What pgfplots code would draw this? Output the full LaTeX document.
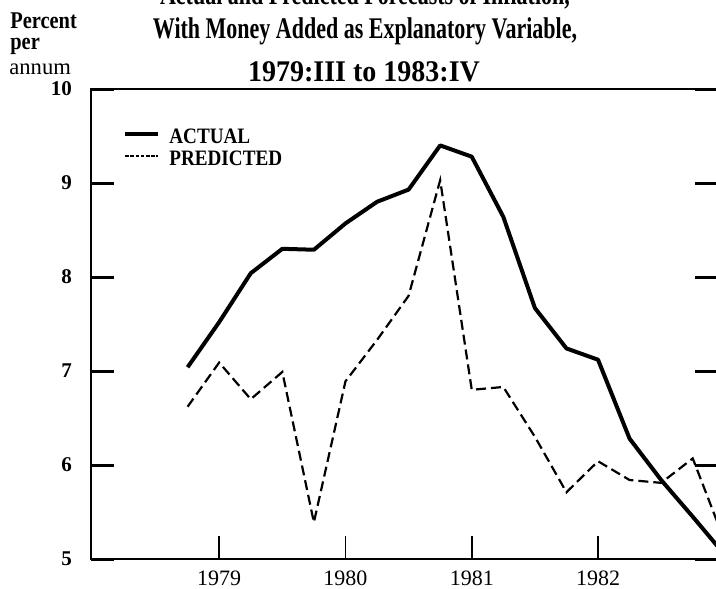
\documentclass[border=0pt]{standalone}
\usepackage{fontspec}
\setmainfont{Liberation Serif}
\usepackage{graphicx}
\usepackage{pgfplots}
\pgfplotsset{compat=1.18}
\pgfplotstableread{
x      y
1978.75 7.04
1979.00 7.52
1979.25 8.04
1979.50 8.30
1979.75 8.29
1980.00 8.57
1980.25 8.80
1980.50 8.93
1980.75 9.40
1981.00 9.28
1981.25 8.64
1981.50 7.67
1981.75 7.24
1982.00 7.12
1982.25 6.28
1982.50 5.84
1982.75 5.45
1983.00 5.05
}\actual
\pgfplotstableread{
x      y
1978.75 6.62
1979.00 7.09
1979.25 6.70
1979.50 6.99
1979.75 5.39
1980.00 6.89
1980.25 7.33
1980.50 7.80
1980.75 9.03
1981.00 6.80
1981.25 6.83
1981.50 6.30
1981.75 5.71
1982.00 6.04
1982.25 5.84
1982.50 5.81
1982.75 6.07
1983.00 5.20
}\predicted
\begin{document}
\begin{tikzpicture}
\begin{axis}[
  at={(0,0)}, anchor=south west,
  scale only axis, width=313.5pt, height=235pt,
  xmin=1977.985, xmax=1982.95, ymin=5, ymax=10,
  xtick={1979,1980,1981,1982}, ytick={5,6,7,8,9,10},
  xtick pos=bottom, ytick pos=both, yticklabel pos=left,
  tick align=inside, major tick length=11.5pt,
  xtick style={line width=0.8pt, black},
  ytick style={line width=1.5pt, black},
  axis line style={line width=1.2pt},
  /pgf/number format/assume math mode=true,
  /pgf/number format/1000 sep={},
  xticklabel style={font=\fontsize{11}{11}\selectfont, yshift=-2.5pt},
  yticklabel style={font=\fontsize{10.5}{10.5}\selectfont\bfseries, xshift=-6pt},
  legend cell align=left,
  legend style={at={(rel axis cs:0,1)}, anchor=north west, xshift=16pt, yshift=-19.5pt,
    draw=none, fill=none, inner sep=0pt, outer sep=0pt, row sep=0pt, column sep=4.5pt,
    font=\fontsize{11}{11}\selectfont\bfseries,
    nodes={inner sep=0pt, text height=7.5pt, text depth=3.5pt}},
]
\addplot[black, line width=2pt, line join=round,
  legend image code/.code={\draw[black, line width=2.2pt] (0pt,2.5pt) -- (16.5pt,2.5pt);}]
  table[x=x, y=y] {\actual};
\addlegendentry{\scalebox{0.87}[1]{ACTUAL}}
\addplot[black, line width=1.1pt, dash pattern=on 5pt off 2.5pt,
  legend image code/.code={\draw[black, line width=0.9pt, dash pattern=on 1.8pt off 0.8pt] (0pt,2.5pt) -- (16.5pt,2.5pt);}]
  table[x=x, y=y] {\predicted};
\addlegendentry{\scalebox{0.87}[1]{PREDICTED}}
\end{axis}
\node[anchor=base, inner sep=0pt] at (137pt,277pt) {\scalebox{1.1}[1.5]{\fontsize{10}{12}\selectfont\bfseries Actual and Predicted Forecasts of Inflation,}};
\node[anchor=base, inner sep=0pt] at (137pt,260pt) {\scalebox{1.1}[1.5]{\fontsize{10}{12}\selectfont\bfseries With Money Added as Explanatory Variable,}};
\node[anchor=base, inner sep=0pt] at (136.5pt,238.5pt) {\scalebox{1.4}[1.5]{\fontsize{10}{12}\selectfont\bfseries 1979:III to 1983:IV}};
\node[anchor=base west, inner sep=0pt] at (-40.5pt,265pt) {\scalebox{0.85}[1]{\fontsize{12}{12}\selectfont\bfseries Percent}};
\node[anchor=base west, inner sep=0pt] at (-40.5pt,254.5pt) {\scalebox{0.85}[1]{\fontsize{12}{12}\selectfont\bfseries per}};
\node[anchor=base west, inner sep=0pt] at (-41pt,242pt) {\fontsize{11.3}{12}\selectfont annum};
\pgfresetboundingbox
\path[use as bounding box] (-45.5pt,-14.5pt) rectangle (312.5pt,279.5pt);
\end{tikzpicture}
\end{document}
